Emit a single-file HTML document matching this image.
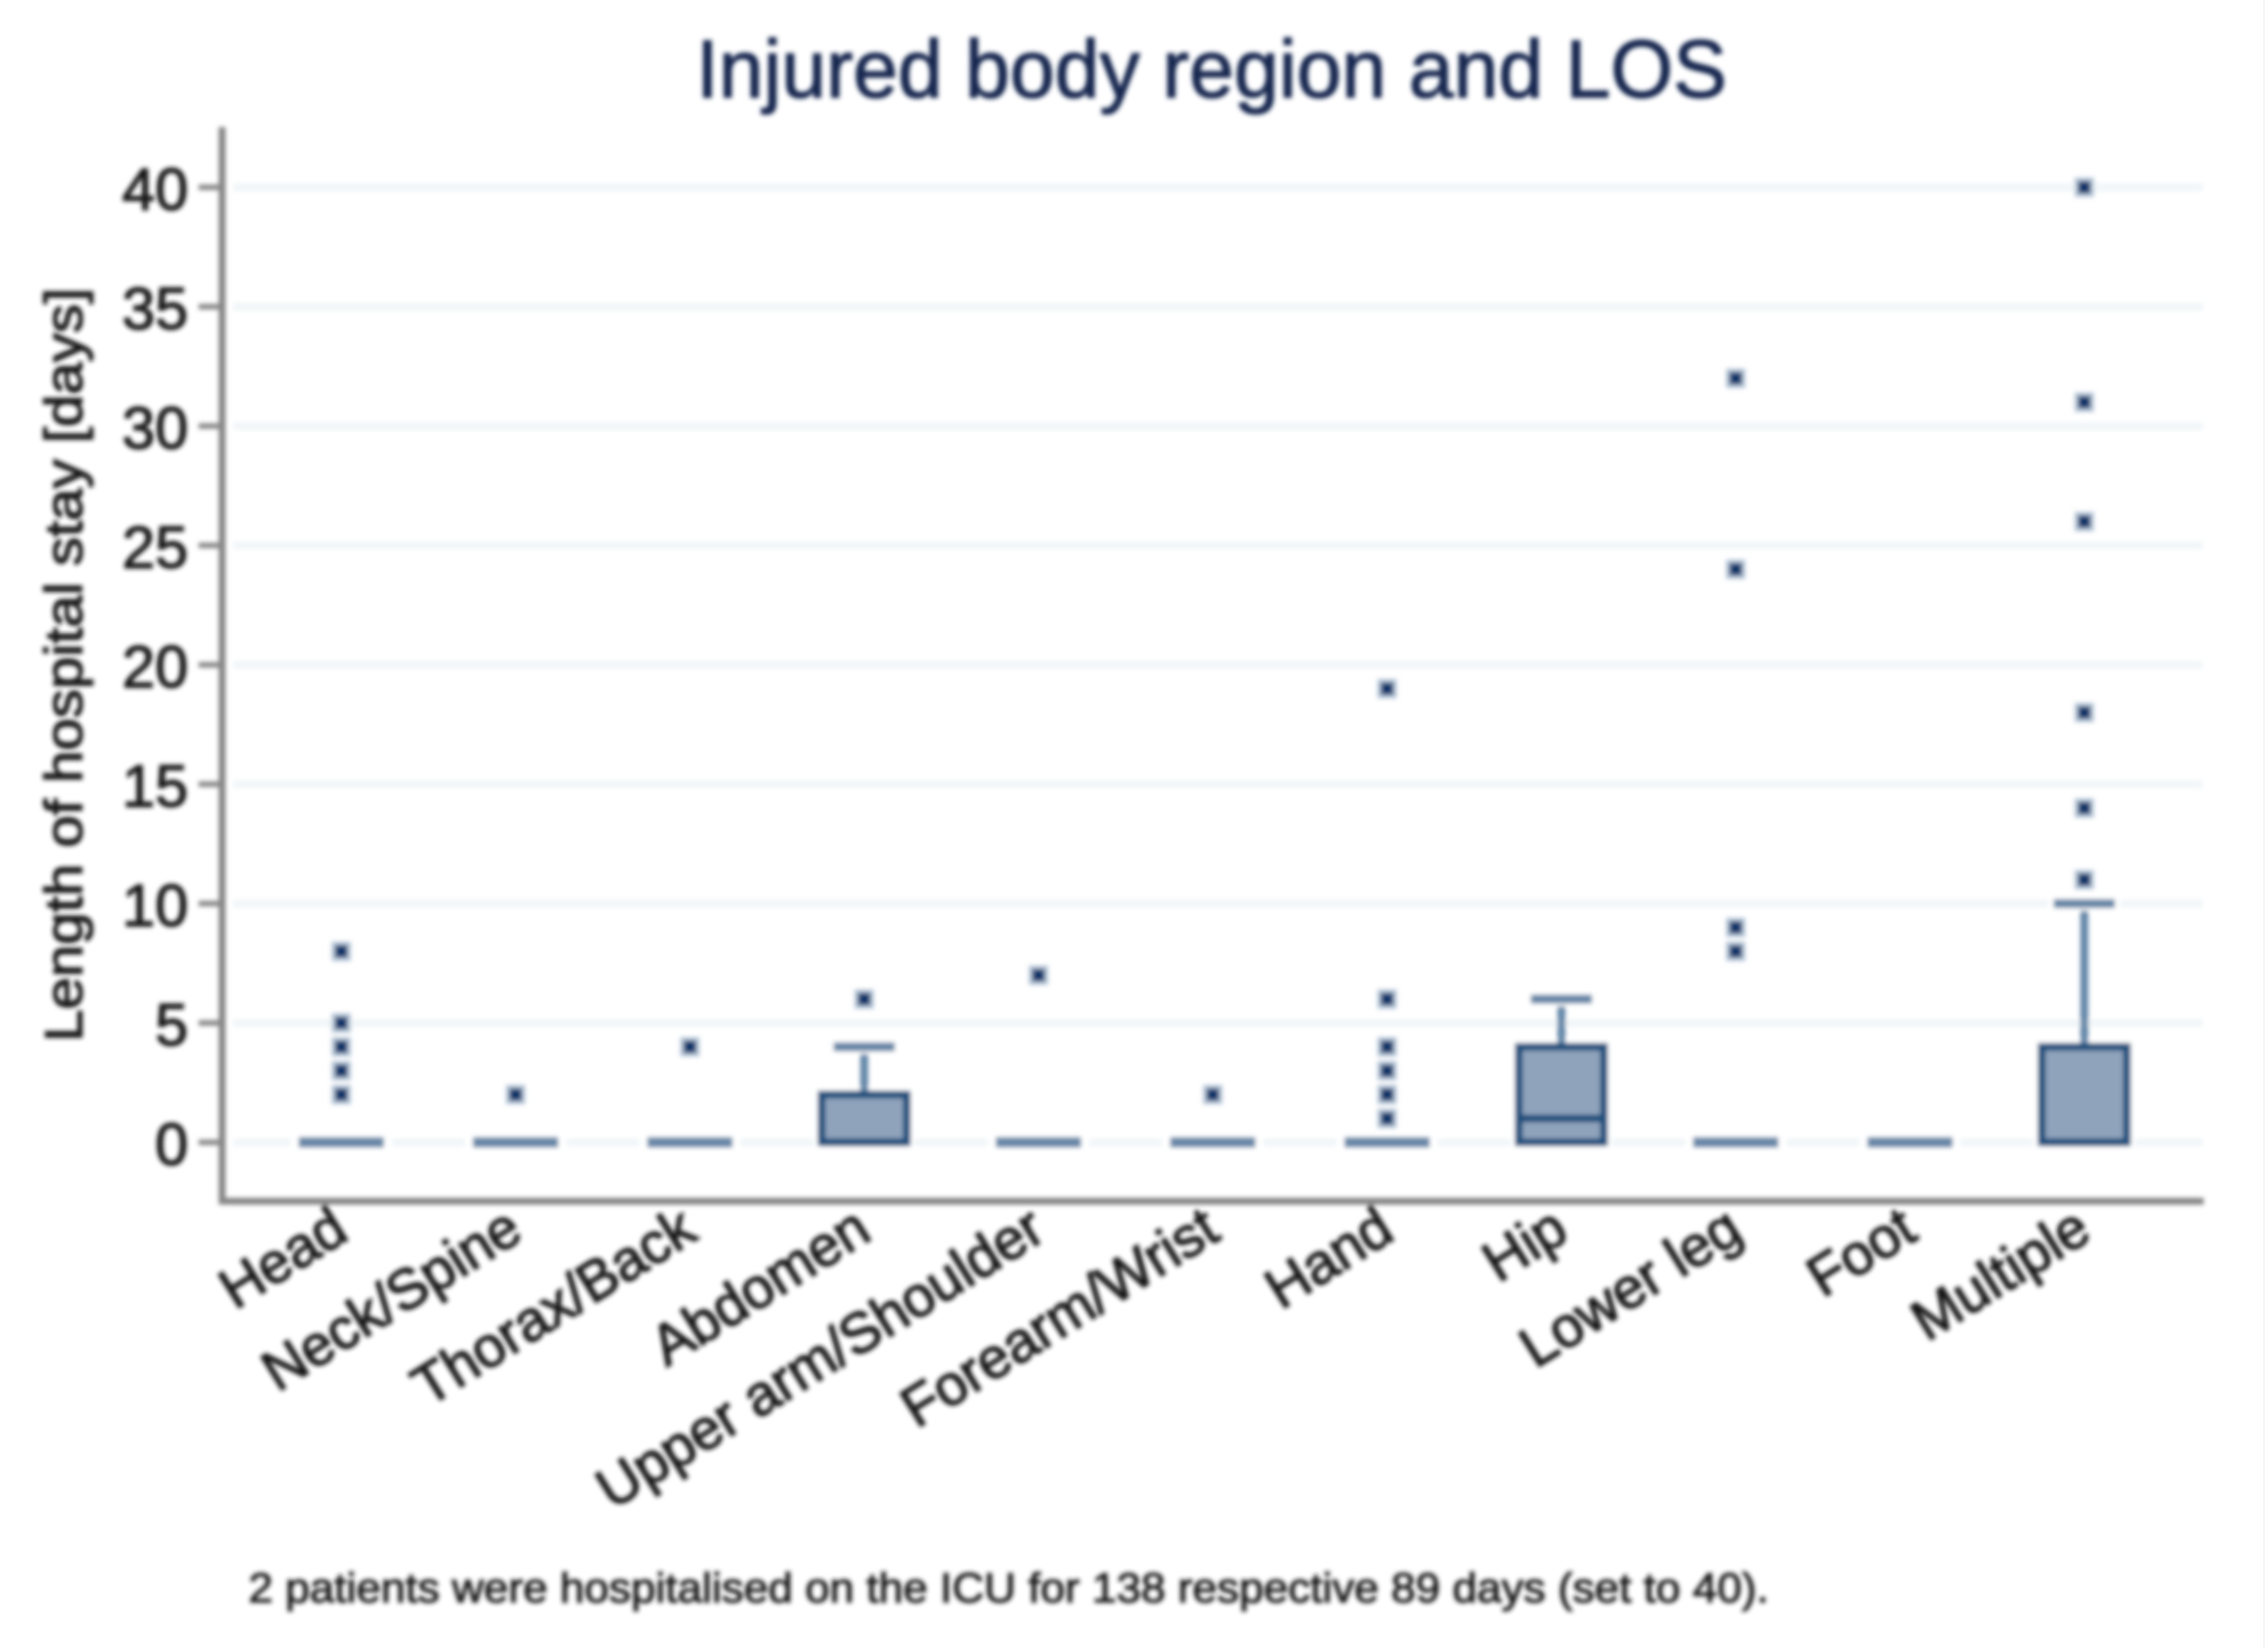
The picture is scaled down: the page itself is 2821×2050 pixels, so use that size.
<!DOCTYPE html>
<html lang="en">
<head>
<meta charset="utf-8">
<title>Injured body region and LOS</title>
<style>
html,body{margin:0;padding:0;background:#fff;}
svg{display:block;}
text{font-family:"Liberation Sans",sans-serif;}
</style>
</head>
<body>
<svg id="chart" xmlns="http://www.w3.org/2000/svg" width="2821" height="2050" viewBox="0 0 2821 2050">
  <defs>
    <filter id="soft" x="-5%" y="-5%" width="110%" height="110%"><feGaussianBlur stdDeviation="2.8"/></filter>
  </defs>
  <rect x="0" y="0" width="2821" height="2050" fill="#ffffff"/>
  <g id="scene" filter="url(#soft)">
    <g id="grid"></g>
    <g id="marks"></g>
    <g id="axes">
      <rect x="272" y="158" width="8.5" height="1340" fill="#858585"/>
      <rect x="272" y="1490" width="2469" height="8.5" fill="#858585"/>
    </g>
    <g id="ticks"></g>
    <g id="xlabels"></g>
    <text x="866" y="121" font-size="102" fill="#14264f" stroke="#14264f" stroke-width="1.6" textLength="1282" lengthAdjust="spacingAndGlyphs">Injured body region and LOS</text>
    <text transform="translate(102,1296) rotate(-90)" font-size="66" fill="#141414" stroke="#141414" stroke-width="1.6" textLength="938" lengthAdjust="spacingAndGlyphs">Length of hospital stay [days]</text>
    <text x="309" y="1993" font-size="52" fill="#1a1a1a" stroke="#1a1a1a" stroke-width="1.3" textLength="1891" lengthAdjust="spacingAndGlyphs">2 patients were hospitalised on the ICU for 138 respective 89 days (set to 40).</text>
  </g>
  <rect x="2815" y="0" width="2" height="2050" fill="#f4f4f4"/>
</svg>
<script>
const categories = ["Head","Neck/Spine","Thorax/Back","Abdomen","Upper arm/Shoulder","Forearm/Wrist","Hand","Hip","Lower leg","Foot","Multiple"];
const q1Values = [0,0,0,0,0,0,0,0,0,0,0];
const medianValues = [0,0,0,0,0,0,0,1,0,0,0];
const q3Values = [0,0,0,2,0,0,0,4,0,0,4];
const whiskerHighValues = [0,0,0,4,0,0,0,6,0,0,10];
const outlierValues = [
  [2,3,4,5,8],
  [2],
  [4],
  [6],
  [7],
  [2],
  [1,2,3,4,6,19],
  [],
  [8,9,24,32],
  [],
  [11,14,18,26,31,40]
];
const yTickLabels = [0,5,10,15,20,25,30,35,40];

const NS = "http://www.w3.org/2000/svg";
function yScale(v){ return 1421 - v * 29.7; }
function xScale(i){ return 424.5 + i * 216.8; }
function make(tag, parent, props){
  const el = document.createElementNS(NS, tag);
  for (const k in props) el.setAttribute(k, props[k]);
  parent.appendChild(el);
  return el;
}
const grid = document.getElementById("grid");
const ticks = document.getElementById("ticks");
const marks = document.getElementById("marks");
const xlabels = document.getElementById("xlabels");

yTickLabels.forEach(function(t){
  const y = yScale(t);
  const line = make("rect", grid, {x:290, y:y-5, width:2450, height:10, fill:"#f1f6f8"});
  
  
  const tick = make("rect", ticks, {x:247, y:y-3.5, width:27, height:7, fill:"#8a8a8a"});
  
  
  const label = make("text", ticks, {x:234, y:y+28, "font-size":74, "text-anchor":"end", fill:"#141414", stroke:"#141414", "stroke-width":1.6});
  
  
  label.textContent = String(t);
});

categories.forEach(function(name, i){
  const cx = xScale(i);
  const halfBox = 53;
  const halfCap = 38;
  const q1 = yScale(q1Values[i]);
  const q3 = yScale(q3Values[i]);
  const med = yScale(medianValues[i]);
  const hi = yScale(whiskerHighValues[i]);

  if (q3Values[i] === q1Values[i]) {
    const halo = make("rect", marks, {x:cx-halfBox-10, y:q1-9, width:2*halfBox+20, height:18, fill:"#ffffff"});
    
    
    const flat = make("rect", marks, {x:cx-halfBox, y:q1-6.5, width:2*halfBox, height:13, fill:"#6787a8"});
    
    
  } else {
    const halo = make("rect", marks, {x:cx-halfBox-10, y:q3-10, width:2*halfBox+20, height:q1-q3+20, fill:"#ffffff"});
    
    
    const whisker = make("line", marks, {x1:cx, x2:cx, y1:q3, y2:hi, stroke:"#6487a9", "stroke-width":10});
    
    
    const capHalo = make("rect", marks, {x:cx-halfCap-7, y:hi-9, width:2*halfCap+14, height:18, fill:"#ffffff"});
    
    
    const cap = make("rect", marks, {x:cx-halfCap, y:hi-5.5, width:2*halfCap, height:11, fill:"#6484a6"});
    
    
    const box = make("rect", marks, {x:cx-halfBox, y:q3, width:2*halfBox, height:q1-q3, fill:"#8fa3bb", stroke:"#1f4f7d", "stroke-width":9.5});
    
    
    const median = make("line", marks, {x1:cx-halfBox, x2:cx+halfBox, y1:med, y2:med, stroke:"#1f4f7d", "stroke-width":9.5});
    
    
  }

  outlierValues[i].forEach(function(v){
    const y = yScale(v);
    const halo = make("rect", marks, {x:cx-12, y:y-12, width:24, height:24, fill:"#b4c4d6"});
    
    
    const dot = make("rect", marks, {x:cx-7.5, y:y-7.5, width:15, height:15, fill:"#0a3669"});
    
    
  });

  const label = make("text", xlabels, {
    transform:"translate(" + (cx + 12) + ",1540) rotate(-32)",
    "font-size":71, "text-anchor":"end", fill:"#141414", stroke:"#141414", "stroke-width":1.6
  });
  
  
  label.textContent = name;
});
</script>
</body>
</html>
